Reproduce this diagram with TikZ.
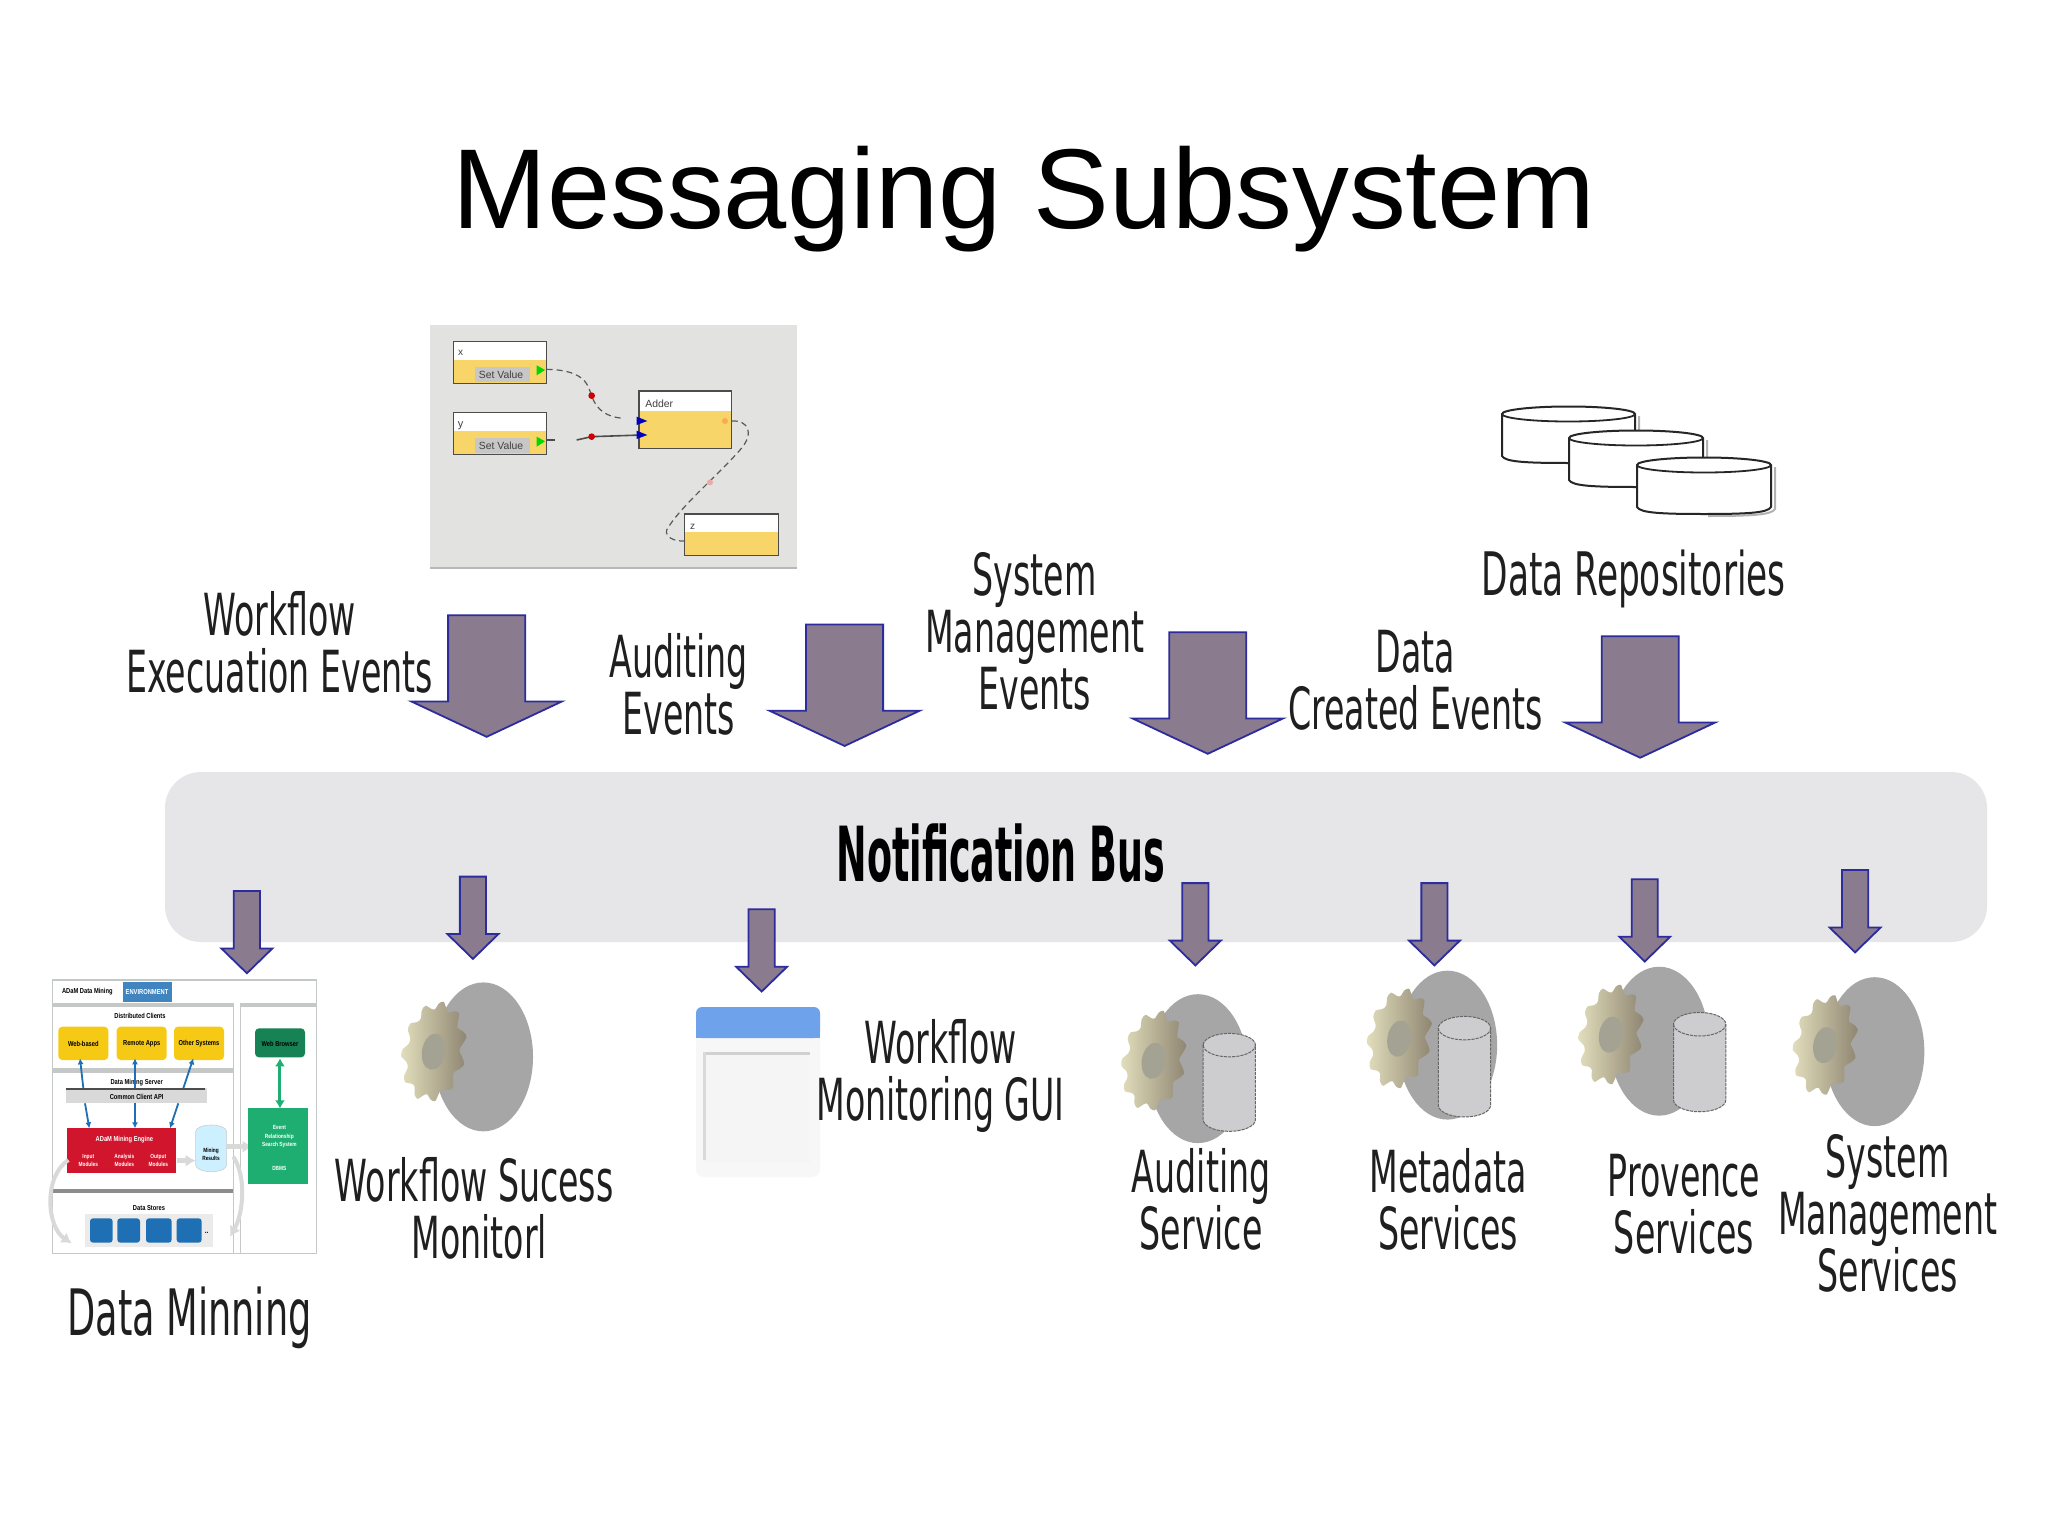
\documentclass[tikz,border=0pt]{standalone}
\usepackage{fontspec}
\setmainfont{Liberation Sans}
\newfontfamily\condf[FakeStretch=0.573]{DejaVu Sans}
\newfontfamily\condbf[FakeStretch=0.48]{DejaVu Sans Bold}
\newfontfamily\tinyf[FakeStretch=0.8]{Liberation Sans Bold}
\usetikzlibrary{arrows.meta}
\definecolor{arrfill}{HTML}{8A7B8E}
\definecolor{arrline}{HTML}{2C2C9C}
\definecolor{busfill}{HTML}{E6E6E9}
\definecolor{svcgray}{HTML}{A6A6A7}
\definecolor{cylfill}{HTML}{CDCDD0}
\definecolor{wfbg}{HTML}{E2E3E0}
\definecolor{wfyellow}{HTML}{F8D568}
\definecolor{dmgray}{HTML}{C4C8C6}
\definecolor{dmblue}{HTML}{1F6FB5}
\definecolor{dmgreen}{HTML}{1FAE72}
\definecolor{dmred}{HTML}{D0152C}
\definecolor{dmyellow}{HTML}{F6C915}
\definecolor{guiblue}{HTML}{6EA3EC}
\definecolor{gearlight}{HTML}{E2DEBC}
\definecolor{geardark}{HTML}{8F8672}
\definecolor{gearhole}{HTML}{A3A293}
\tikzset{
  lab/.style={align=center,inner sep=0pt,text=black!88,font=\condf\fontsize{29}{28.5}\selectfont},
  blockarrow/.style={fill=arrfill,draw=arrline,line width=0.9pt,line join=miter},
  wfbox/.style={draw=black!70,line width=0.7pt},
  wfwire/.style={draw=black!65,line width=0.6pt,densely dashed},
  wfsolid/.style={draw=black!70,line width=0.8pt},
  mini/.style={inner sep=0pt,align=center,font=\tinyf\fontsize{3.6}{4.2}\selectfont},
  disk/.style={fill=white,draw=black!85,line width=1pt},
  cyl/.style={fill=cylfill,draw=black!60,line width=0.5pt,dash pattern=on 1.6pt off 0.5pt},
  bluearr/.style={draw=dmblue,line width=0.9pt,-{Latex[length=3pt,width=3pt]}},
  grayarr/.style={draw=black!15,line width=2.4pt,-{Latex[length=5pt,width=6pt]}},
}
% centre x, top, start of head, tip, half shaft, half wing
\newcommand{\blockdown}[6]{%
  \path[blockarrow] (#1-#5,#2) -- (#1+#5,#2) -- (#1+#5,#3) -- (#1+#6,#3) -- (#1,#4)
    -- (#1-#6,#3) -- (#1-#5,#3) -- cycle;}
\newcommand{\bigdown}[2]{\blockdown{#1}{#2}{#2+66}{#2+93}{29.5}{57.5}}
\newcommand{\smalldown}[2]{\blockdown{#1}{#2}{#2+44}{#2+63}{10}{19.5}}
% ellipse cx cy ; gear cx cy
\newcommand{\svcbody}[4]{%
  \fill[svcgray] (#1,#2) ellipse [x radius=38,y radius=57];
  \begin{scope}[shift={(#3,#4)},rotate=-10]
    \shade[left color=gearlight,right color=geardark]
      plot[smooth cycle,domain=0:352,samples=45] ({(22+2.8*sin(11*\x))*cos(\x)},{(36+3.2*sin(11*\x))*sin(\x)});
    \fill[gearhole] (0,0) ellipse [x radius=9,y radius=14];
  \end{scope}}
% left, right, top, bottom
\newcommand{\cylinder}[4]{%
  \path[cyl] (#1,#3+9) -- (#1,#4-9) arc[start angle=180,end angle=0,x radius=(#2-#1)/2,y radius=9]
    -- (#2,#3+9) arc[start angle=0,end angle=-180,x radius=(#2-#1)/2,y radius=9] -- cycle;
  \draw[black!60,line width=0.5pt,dash pattern=on 1.6pt off 0.5pt] (#1,#3+9) arc[start angle=180,end angle=0,x radius=(#2-#1)/2,y radius=9];}
% left, right, top-centre y, bottom
\newcommand{\diskdraw}[4]{%
  \pgfmathsetmacro{\diskmid}{(#1+#2)/2}%
  \path[draw=black!30,line width=1pt,shift={(4,2)}] (#2,#3) -- (#2,#4-7) .. controls (#2-3,#4-1) and (#2-25,#4) .. (\diskmid,#4);
  \path[disk] (#1,#3) -- (#1,#4-7) .. controls (#1+3,#4-1) and (#1+25,#4) .. (\diskmid,#4)
     .. controls (#2-25,#4) and (#2-3,#4-1) .. (#2,#4-7) -- (#2,#3)
    arc[start angle=0,end angle=-180,x radius=(#2-#1)/2,y radius=7.5] -- cycle;
  \draw[black!85,line width=0.9pt] (#1,#3) arc[start angle=180,end angle=0,x radius=(#2-#1)/2,y radius=7.5];}
\begin{document}
\begin{tikzpicture}[x=0.5pt,y=-0.5pt]
\useasboundingbox (0,0) rectangle (2048,1535);
\fill[white] (0,0) rectangle (2048,1535);

\node[inner sep=0pt,font=\fontsize{56.8}{60}\selectfont,text=black] (title) at (1024,199) {Messaging Subsystem};

% --- workflow picture ---
\begin{scope}[shift={(420,310)},scale=0.33333]
  \fill[wfbg] (30,45) rectangle (1130,775);
  \fill[black!28] (30,770) rectangle (1130,778);
  \foreach \l/\t/\m/\b/\r in {100/95/150/220/380, 100/308/362/433/380, 657/243/302/415/935, 793/612/665/737/1075}{
    \fill[white] (\l,\t) rectangle (\r,\m);
    \fill[wfyellow] (\l,\m) rectangle (\r,\b);
    \draw[wfbox] (\l,\t) rectangle (\r,\b);
  }
  \fill[black!22] (165,172) rectangle (330,215);
  \fill[black!22] (165,385) rectangle (330,428);
  \node[inner sep=0pt,text=black!75,font=\fontsize{5.2}{6}\selectfont] (sv1) at (243,193) {Set Value};
  \node[inner sep=0pt,text=black!75,font=\fontsize{5.2}{6}\selectfont] (sv2) at (243,406) {Set Value};
  \node[inner sep=0pt,text=black!75,font=\fontsize{5.2}{6}\selectfont] (add) at (718,282) {Adder};
  \node[inner sep=0pt,text=black!75,font=\fontsize{5}{6}\selectfont] (vx) at (122,130) {x};
  \node[inner sep=0pt,text=black!75,font=\fontsize{5.5}{6}\selectfont] (vy) at (122,347) {y};
  \node[inner sep=0pt,text=black!75,font=\fontsize{5}{6}\selectfont] (vz) at (818,652) {z};
  \coordinate (p1) at (380,178); \coordinate (q1) at (612,325);
  \coordinate (p2) at (380,390); \coordinate (p2b) at (405,390);
  \coordinate (q2a) at (470,390); \coordinate (q2) at (515,380); \coordinate (a2) at (665,375);
  \coordinate (r1) at (935,333); \coordinate (r2) at (795,693);
  \draw[wfwire] (p1) .. controls (500,180) and (505,230) .. (515,258) .. controls (530,300) and (560,322) .. (q1);
  \draw[wfsolid] (p2) -- (p2b);
  \draw[wfsolid] (q2a) -- (q2) -- (a2);
  \draw[wfwire] (r1) .. controls (985,330) and (1005,370) .. (960,420) .. controls (890,500) and (780,590) .. (740,660) .. controls (735,680) and (760,695) .. (r2);
  \fill[red!80!black] (515,257) circle (10);
  \fill[red!80!black] (515,380) circle (10);
  \fill[red!20!wfyellow] (915,333) circle (9);
  \fill[red!25!wfbg] (870,517) circle (9);
  \fill[green!85!black] (350,166) -- (375,180) -- (350,196) -- cycle;
  \fill[green!85!black] (350,380) -- (375,394) -- (350,410) -- cycle;
  \fill[blue!75!black] (650,320) -- (682,333) -- (650,345) -- cycle;
  \fill[blue!75!black] (650,362) -- (682,375) -- (650,387) -- cycle;
\end{scope}

% --- disks ---
\diskdraw{1502}{1635}{414}{463}
\diskdraw{1569}{1703}{438}{487}
\diskdraw{1637}{1771}{465}{514}

% --- bus ---
\fill[busfill,rounded corners=18pt] (165,772) rectangle (1987,942);

\begin{scope}[scale=1.3064]
  \bigdown{372.5}{471} \bigdown{646.5}{478} \bigdown{924.5}{484} \bigdown{1255.5}{487}
\end{scope}
\begin{scope}[scale=1.3064]
  \smalldown{189}{682} \smalldown{362}{671} \smalldown{583}{696} \smalldown{915}{676}
  \smalldown{1098}{676} \smalldown{1259}{673} \smalldown{1420}{666}
\end{scope}

% --- services ---
\begin{scope}[scale=1.3064]
  \svcbody{370}{809}{332}{805}
  \svcbody{917}{818}{883}{812}
  \svcbody{1108}{800}{1071}{795}
  \svcbody{1270}{797}{1233}{792}
  \svcbody{1435}{805}{1397}{800}
  \cylinder{921}{961}{791}{866}
  \cylinder{1101}{1141}{778}{855}
  \cylinder{1281}{1321}{775}{851}
\end{scope}

% --- GUI icon ---
\fill[black!3,rounded corners=4pt] (696,1020) rectangle (820,1177);
\fill[guiblue,rounded corners=3pt] (696,1007) rectangle (820,1038);
\fill[guiblue] (696,1025) rectangle (820,1038);
\fill[black!4] (703,1052) rectangle (810,1163);
\fill[black!18] (703,1052) rectangle (810,1055);
\fill[black!15] (703,1052) rectangle (706,1160);

% --- data mining picture ---
\begin{scope}[shift={(30,960)},scale=0.33333]
  \fill[white] (68,60) rectangle (860,880);
  \draw[dmgray,line width=0.7pt] (68,60) rectangle (860,880);
  \fill[dmblue!85!white] (278,65) rectangle (425,125);
  \node[mini,text=black] (dmt) at (172,96) {ADaM Data Mining};
  \node[mini,text=white] (dmt2) at (351,96) {ENVIRONMENT};
  \draw[dmgray,line width=0.7pt,fill=white] (68,130) rectangle (610,880);
  \draw[dmgray,line width=0.7pt,fill=white] (632,130) rectangle (860,880);
  \fill[dmgray] (68,128) rectangle (610,142);
  \fill[dmgray] (632,128) rectangle (860,142);
  \fill[dmgray] (68,325) rectangle (610,338);
  \fill[black!45] (68,686) rectangle (610,700);
  \node[mini] (dc) at (330,168) {Distributed Clients};
  \foreach \a/\b/\t/\n in {85/235/Web-based/y1,260/410/Remote Apps/y2,432/582/Other Systems/y3}{
    \fill[dmyellow,rounded corners=2pt] (\a,200) rectangle (\b,300);
    \node[mini] (\n) at ({(\a+\b)/2},252) {\t};
  }
  \node[mini] (ds) at (320,368) {Data Mining Server};
  \fill[black!15] (108,385) rectangle (530,430);
  \fill[black!70] (108,383) rectangle (526,390);
  \node[mini] (api) at (320,412) {Common Client API};
  \foreach \a/\b/\c/\d in {160/385/150/295,315/385/315/295,460/385/490/295,165/430/178/505,315/430/315/505,445/430/420/505}{
    \coordinate (u) at (\a,\b); \coordinate (v) at (\c,\d);
    \draw[bluearr] (u) -- (v);
  }
  \fill[dmred] (112,505) rectangle (438,638);
  \node[mini,text=white] (eng) at (283,540) {ADaM Mining Engine};
  \node[mini,text=white,font=\tinyf\fontsize{3}{4}\selectfont] (m1) at (175,600) {Input\\Modules};
  \node[mini,text=white,font=\tinyf\fontsize{3}{4}\selectfont] (m2) at (283,600) {Analysis\\Modules};
  \node[mini,text=white,font=\tinyf\fontsize{3}{4}\selectfont] (m3) at (385,600) {Output\\Modules};
  \fill[blue!30!cyan!20!white,draw=black!20,line width=0.3pt] (497,515) -- (497,615) arc[start angle=180,end angle=0,x radius=46.5,y radius=20] -- (590,515) arc[start angle=0,end angle=-180,x radius=46.5,y radius=20] -- cycle;
  \node[mini,font=\tinyf\fontsize{3}{4}\selectfont] (res) at (543,582) {Mining\\Results};
  \coordinate (g1) at (440,602); \coordinate (g2) at (497,602);
  \coordinate (g3) at (590,560); \coordinate (g4) at (668,560);
  \draw[grayarr] (g1) -- (g2);
  \draw[grayarr] (g3) -- (g4);
  \coordinate (c1) at (115,600); \coordinate (c2) at (125,850);
  \coordinate (c3) at (610,590); \coordinate (c4) at (600,830);
  \draw[grayarr,line width=2pt] (c1) .. controls (40,650) and (50,800) .. (c2);
  \draw[grayarr,line width=2pt] (c3) .. controls (650,650) and (640,760) .. (c4);
  \fill[dmgreen!75!black,rounded corners=2pt] (675,205) rectangle (825,292);
  \node[mini,text=black] (wb) at (750,252) {Web Browser};
  \fill[dmgreen] (655,445) rectangle (835,672);
  \node[mini,text=white,font=\tinyf\fontsize{3}{4.2}\selectfont] (ev) at (748,530) {Event\\Relationship\\Search System};
  \node[mini,text=white,font=\tinyf\fontsize{3}{4.2}\selectfont] (dbms) at (748,626) {DBMS};
  \coordinate (ga) at (750,295); \coordinate (gb) at (750,445);
  \draw[dmgreen,line width=1.5pt,{Latex[length=4pt,width=5pt]}-{Latex[length=4pt,width=5pt]}] (ga) -- (gb);
  \node[mini] (dst) at (357,745) {Data Stores};
  \fill[black!8] (165,762) rectangle (548,862);
  \foreach \a/\b in {180/248,262/330,348/425,440/515}{
    \fill[dmblue,rounded corners=1.5pt] (\a,775) rectangle (\b,848);
  }
  \node[mini,font=\tinyf\fontsize{4}{4}\selectfont] (dots) at (530,820) {..};
\end{scope}

% --- labels ---
\begin{scope}[scale=1.3064]
  \node[lab] (l1) at (214,492) {Workflow\\Execuation Events};
  \node[lab] (l2) at (519.5,524) {Auditing\\Events};
  \node[lab] (l3) at (792,483) {System\\Management\\Events};
  \node[lab,font=\condf\fontsize{30}{30}\selectfont] (l4) at (1250.5,443) {Data Repositories};
  \node[lab] (l5) at (1083.5,521) {Data\\Created Events};
  \node[inner sep=0pt,text=black,font=\condbf\fontsize{38}{38}\selectfont] (bus) at (766,653) {Notification Bus};
  \node[lab,font=\condf\fontsize{32}{32}\selectfont] (l6) at (145,1009) {Data Minning};
  \node[lab] (l7) at (363,925) {Workflow Sucess\\\hspace*{5pt}Monitorl};
  \node[lab] (l8) at (720,824) {Workflow\\Monitoring GUI};
  \node[lab] (l9) at (919.5,918) {Auditing\\Service};
  \node[lab] (l10) at (1108.5,918) {Metadata\\Services};
  \node[lab] (l11) at (1289,922) {Provence\\Services};
  \node[lab] (l12) at (1445,929) {System\\Management\\Services};
\end{scope}
\end{tikzpicture}
\end{document}
